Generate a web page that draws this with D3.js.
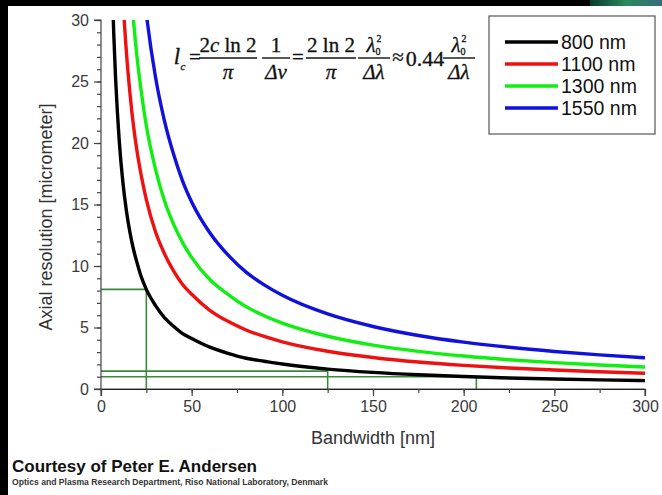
<!DOCTYPE html>
<html><head><meta charset="utf-8">
<script src="https://cdn.jsdelivr.net/npm/d3@7/dist/d3.min.js"></script>
<style>body{margin:0;background:#000}svg{display:block}</style>
</head><body>
<script>
const bandwidth = [6,7,8,9,10,12,14,16,18,20,22,25,30,35,40,45,50,60,70,80,90,100,125,150,175,200,225,250,275,300];
const res800  = [33.8,29.0,25.4,22.6,20.3,16.9,14.5,12.7,11.3,10.2,9.2,8.1,6.8,5.8,5.1,4.5,4.1,3.4,2.9,2.5,2.26,2.03,1.62,1.35,1.16,1.02,0.90,0.81,0.74,0.68];
const res1100 = [null,null,null,null,38.4,32,27.4,24,21.3,19.2,17.5,15.4,12.8,11,9.6,8.5,7.7,6.4,5.5,4.8,4.27,3.84,3.07,2.56,2.19,1.92,1.71,1.54,1.40,1.28];
const res1300 = [null,null,null,null,null,null,38.3,33.5,29.8,26.8,24.4,21.4,17.9,15.3,13.4,11.9,10.7,8.9,7.7,6.7,5.96,5.36,4.29,3.57,3.06,2.68,2.38,2.14,1.95,1.79];
const res1550 = [null,null,null,null,null,null,null,null,null,38.1,34.6,30.5,25.4,21.8,19.1,16.9,15.2,12.7,10.9,9.5,8.47,7.62,6.1,5.08,4.35,3.81,3.39,3.05,2.77,2.54];
const seriesNames = ["800 nm","1100 nm","1300 nm","1550 nm"];
const seriesColors = ["#000000","#ee1111","#11ee11","#1111dd"];
const seriesValues = [res800,res1100,res1300,res1550];
const xTicks = [0,50,100,150,200,250,300];
const yTicks = [0,5,10,15,20,25,30];
// guide lines: [bandwidth, resolution]
const guideX = [25,125,207];
const guideY = [8.1,1.45,1.0];

const W=662,H=495;
const svg=d3.select("body").append("svg").attr("width",W).attr("height",H);
svg.append("rect").attr("width",W).attr("height",H).attr("fill","#000");
svg.append("rect").attr("x",8).attr("y",6).attr("width",W-8).attr("height",H-6).attr("fill","#fff");
const grad=svg.append("defs").append("linearGradient").attr("id","tr");
grad.append("stop").attr("offset","0%").attr("stop-color","#0a3a2a");
grad.append("stop").attr("offset","50%").attr("stop-color","#2a8a5a");
grad.append("stop").attr("offset","100%").attr("stop-color","#3a6a7a");
svg.append("rect").attr("x",590).attr("y",0).attr("width",72).attr("height",6).attr("fill","url(#tr)");

const x=d3.scaleLinear().domain([0,300]).range([101,645]);
const y=d3.scaleLinear().domain([0,30]).range([389,20]);

svg.append("defs").append("clipPath").attr("id","clip").append("rect")
  .attr("x",x(0)).attr("y",y(30)).attr("width",x(300)-x(0)).attr("height",y(0)-y(30));

const g=svg.append("g");
const gc="#3a8a3a";
guideX.forEach((gx,i)=>{
  g.append("line").attr("x1",x(0)).attr("x2",x(gx)).attr("y1",y(guideY[i])).attr("y2",y(guideY[i])).attr("stroke",gc).attr("stroke-width",1.6);
  g.append("line").attr("x1",x(gx)).attr("x2",x(gx)).attr("y1",y(0)).attr("y2",y(guideY[i])).attr("stroke",gc).attr("stroke-width",1.6);
});

const line=d3.line().defined(d=>d[1]!=null).x(d=>x(d[0])).y(d=>y(d[1])).curve(d3.curveMonotoneX);
const cg=g.append("g").attr("clip-path","url(#clip)");
seriesValues.forEach((vals,i)=>{
  cg.append("path").datum(bandwidth.map((b,j)=>[b,vals[j]]))
    .attr("d",line).attr("fill","none").attr("stroke",seriesColors[i]).attr("stroke-width",3.4);
});

const axCol="#444";
const tf="Liberation Sans, Arial";
const xa=svg.append("g").attr("transform",`translate(0,${y(0)})`);
xa.call(d3.axisBottom(x).tickValues(d3.range(0,301,25)).tickSize(4).tickFormat(""));
xa.selectAll(".tick line").attr("stroke",axCol).attr("stroke-width",1.2);
const xb=svg.append("g").attr("transform",`translate(0,${y(0)})`);
xb.call(d3.axisBottom(x).tickValues(xTicks).tickSize(7).tickPadding(5).tickFormat(d3.format("d")));
xb.selectAll("path,line").attr("stroke",axCol).attr("stroke-width",1.2);
xb.select(".domain").attr("d",`M${x(0)},7V0H${x(300)}V7`);
xb.selectAll("text").attr("font-family",tf).attr("font-size",16).attr("fill","#3a3a3a");

const ya=svg.append("g").attr("transform",`translate(${x(0)},0)`);
ya.call(d3.axisLeft(y).tickValues(d3.range(0,31,1)).tickSize(4).tickFormat(""));
ya.selectAll("line").attr("stroke",axCol).attr("stroke-width",1.2);
ya.select(".domain").remove();
const yb=svg.append("g").attr("transform",`translate(${x(0)},0)`);
yb.call(d3.axisLeft(y).tickValues(yTicks).tickSize(7).tickPadding(5).tickFormat(d3.format("d")));
yb.selectAll("path,line").attr("stroke",axCol).attr("stroke-width",1.2);
yb.select(".domain").attr("d",`M-7,${y(30)}H0V${y(0)}H-7`);
yb.selectAll("text").attr("font-family",tf).attr("font-size",16).attr("fill","#3a3a3a");

svg.append("text").attr("x",373).attr("y",444).attr("text-anchor","middle")
  .attr("font-family",tf).attr("font-size",18).attr("fill","#333").text("Bandwidth [nm]");
svg.append("text").attr("transform","translate(52,217) rotate(-90)").attr("text-anchor","middle")
  .attr("font-family",tf).attr("font-size",18).attr("fill","#333").text("Axial resolution [micrometer]");

const lg=svg.append("g");
lg.append("rect").attr("x",489).attr("y",16).attr("width",166).attr("height",118).attr("fill","#fff").attr("stroke","#555").attr("stroke-width",1.2);
seriesNames.forEach((n,i)=>{
  const yy=42+i*22;
  lg.append("line").attr("x1",505).attr("x2",558).attr("y1",yy).attr("y2",yy).attr("stroke",seriesColors[i]).attr("stroke-width",3.4);
  lg.append("text").attr("x",561).attr("y",yy+7).attr("font-family",tf).attr("font-size",19.5).attr("fill","#111").text(n);
});

const f=svg.append("g").attr("font-family","Liberation Serif, Times New Roman, serif").attr("fill","#111").attr("font-size",21).attr("stroke","#111").attr("stroke-width",0.3);
const fy=58;
function frac(cx,num,den,w){
  f.append("line").attr("x1",cx-w/2).attr("x2",cx+w/2).attr("y1",fy).attr("y2",fy).attr("stroke","#111").attr("stroke-width",1.4);
  num(cx,fy-6); den(cx,fy+21);
}
function t(xp,yp,s,opts={}){
  const e=f.append("text").attr("x",xp).attr("y",yp).attr("text-anchor",opts.anchor||"middle");
  if(opts.italic) e.attr("font-style","italic");
  if(opts.size) e.attr("font-size",opts.size);
  e.text(s); return e;
}
t(177,fy+6,"l",{italic:true,size:23});
t(183,fy+12,"c",{italic:true,size:11});
t(195,fy+6,"=");
frac(228,(cx,yy)=>{const e=f.append("text").attr("x",cx).attr("y",yy).attr("text-anchor","middle");e.append("tspan").text("2");e.append("tspan").attr("font-style","italic").text("c");e.append("tspan").text(" ln 2");},
  (cx,yy)=>t(cx,yy,"π",{italic:true}),58);
frac(276,(cx,yy)=>t(cx,yy,"1"),(cx,yy)=>t(cx,yy,"Δν",{italic:true}),28);
t(298,fy+6,"=");
frac(331,(cx,yy)=>t(cx,yy,"2 ln 2"),(cx,yy)=>t(cx,yy,"π",{italic:true}),50);
function lam(cx,yy){
  t(cx-3,yy,"λ",{italic:true});
  t(cx+4,yy+3,"0",{size:10});
  t(cx+5,yy-10,"2",{size:10});
}
frac(374,lam,(cx,yy)=>t(cx,yy,"Δλ",{italic:true}),32);
t(398,fy+6,"≈");
t(425,fy+8,"0.44",{size:22});
frac(459,lam,(cx,yy)=>t(cx,yy,"Δλ",{italic:true}),32);

svg.append("text").attr("x",12).attr("y",472).attr("font-family",tf).attr("font-weight","bold").attr("font-size",17).attr("fill","#111").text("Courtesy of Peter E. Andersen");
svg.append("text").attr("x",12).attr("y",485).attr("font-family",tf).attr("font-weight","bold").attr("font-size",8.6).attr("fill","#333").text("Optics and Plasma Research Department, Riso National Laboratory, Denmark");
</script>
</body></html>
